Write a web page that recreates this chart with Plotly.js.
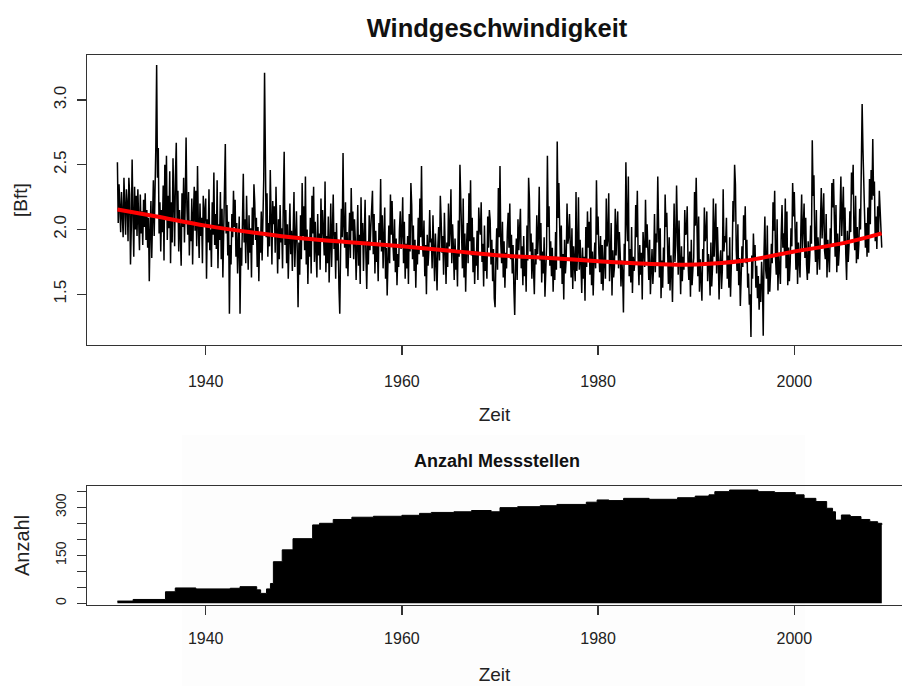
<!DOCTYPE html>
<html><head><meta charset="utf-8">
<script src="https://cdn.plot.ly/plotly-3.0.1.min.js"></script>
<style>
html,body{margin:0;padding:0;background:#fff;overflow:hidden;width:902px;height:686px}
#bg{position:absolute;left:182px;top:435px;width:623px;height:251px;background:#fdfdfd}
#chart{position:absolute;left:0;top:0;width:902px;height:686px}
</style></head>
<body><div id="bg"></div><div id="chart"></div>
<script>
// monthly mean wind speed [Bft], Jan 1931 .. Dec 2008 (one row per year)
const startYear = 1931;
const windBft = [
2.52,2.05,2.35,2.18,1.98,2.29,2.10,1.94,2.40,2.13,1.96,2.31,
2.20,1.91,2.40,2.27,1.73,2.02,2.54,2.12,1.79,2.33,2.00,2.26,
1.95,2.31,2.06,1.84,2.27,1.97,2.14,1.88,2.23,2.02,2.28,1.92,
2.15,1.86,2.09,1.60,1.99,2.22,1.78,2.06,2.38,1.95,2.20,2.64,
3.27,2.40,2.63,1.97,2.21,1.83,2.15,1.98,2.34,1.76,2.50,2.08,
2.57,1.92,2.26,2.01,2.45,1.74,2.21,1.90,2.55,2.11,1.87,2.42,
2.67,2.08,2.30,1.83,2.15,1.96,1.72,2.28,2.02,2.40,1.90,2.22,
2.71,2.18,1.96,2.29,1.80,2.07,1.91,2.24,1.73,2.12,2.33,1.99,
2.30,1.87,2.49,2.03,1.78,2.20,1.95,2.09,1.74,2.26,2.02,2.14,
2.24,1.62,2.08,1.90,2.31,1.84,2.00,1.71,2.21,1.96,2.44,1.88,
2.12,1.85,2.38,1.70,2.04,1.92,2.29,1.77,2.16,1.63,2.00,2.27,
2.66,1.97,2.19,1.80,2.06,1.35,1.88,1.73,2.12,1.94,2.30,2.02,
2.23,1.79,2.05,1.66,1.93,2.10,1.35,1.86,1.72,2.16,2.43,1.90,
2.08,1.74,2.26,1.95,1.69,2.11,1.82,2.01,1.63,2.17,1.88,2.35,
2.21,1.92,2.09,1.71,2.02,1.60,1.96,1.82,2.14,1.76,2.06,2.39,
3.21,2.15,1.94,2.28,1.79,2.05,1.87,2.46,1.99,1.73,2.22,2.04,
2.18,1.82,2.33,1.95,1.66,2.08,1.77,2.19,1.90,2.01,1.70,2.24,
2.60,1.88,2.15,1.74,2.04,1.62,1.93,2.20,1.81,1.99,1.68,2.12,
2.29,1.71,1.98,2.14,1.83,1.40,1.90,1.65,2.11,1.77,2.36,1.95,
2.18,1.84,2.41,1.73,2.00,1.58,1.92,1.79,2.09,1.66,2.26,1.97,
2.33,1.75,2.06,1.88,1.63,2.12,1.80,1.97,1.69,2.24,1.93,2.15,
2.02,1.80,2.37,1.67,1.95,1.74,2.10,1.59,1.89,2.20,1.71,2.08,
2.27,1.85,1.98,1.62,2.05,1.76,1.92,1.55,1.35,1.83,2.16,1.94,
2.59,2.02,1.86,2.21,1.70,1.98,1.64,1.90,2.13,1.78,2.32,1.99,
2.14,1.77,2.08,1.93,1.61,1.85,2.19,1.72,1.96,1.58,2.25,1.88,
2.05,1.68,1.97,2.23,1.79,1.54,1.91,1.73,2.11,1.84,2.02,2.18,
2.30,1.81,2.12,1.66,1.99,1.75,1.88,1.60,2.05,1.92,2.39,1.83,
2.11,1.70,1.94,2.17,1.62,1.86,1.49,1.78,2.03,1.74,2.27,1.96,
2.22,1.89,1.76,2.08,1.67,1.93,1.57,1.81,1.71,2.00,2.14,1.85,
1.98,2.25,1.74,2.06,1.62,1.89,1.70,1.95,1.58,2.12,1.83,2.36,
2.19,1.77,2.03,1.68,1.92,1.55,1.86,1.73,2.09,1.81,2.24,1.94,
2.49,1.91,1.79,2.07,1.64,1.88,1.50,1.96,1.72,1.84,2.15,1.90,
1.93,1.70,2.11,1.85,1.60,1.97,1.74,1.53,1.87,2.02,1.76,2.26,
2.08,1.82,1.95,1.65,2.13,1.78,1.58,1.90,1.71,2.20,1.87,2.00,
2.31,1.74,2.04,1.86,1.61,1.93,1.69,1.84,1.56,2.07,1.79,2.50,
2.14,1.88,1.70,2.24,1.63,1.97,1.52,1.85,2.05,1.74,2.28,1.91,
2.38,1.80,2.09,1.67,1.94,1.58,1.83,1.72,1.99,1.61,2.17,2.02,
1.96,2.21,1.75,1.89,1.56,2.03,1.68,1.80,1.62,2.10,1.86,2.15,
2.07,1.73,1.92,1.60,1.85,1.47,1.40,1.78,2.01,1.69,2.32,1.94,
2.49,1.89,1.74,2.06,1.63,1.91,1.55,1.82,1.70,1.98,2.13,1.86,
2.20,1.77,1.96,1.66,1.88,1.54,1.34,1.72,1.93,1.61,2.08,1.84,
1.99,2.16,1.70,1.87,1.57,1.95,1.64,1.80,1.52,2.03,1.76,2.40,
2.24,1.83,1.97,1.62,1.90,1.69,1.50,1.85,1.73,2.11,1.81,1.95,
2.33,1.76,2.05,1.59,1.83,1.66,1.94,1.48,1.75,1.87,2.57,2.02,
2.18,1.72,1.91,1.64,1.86,1.52,1.79,1.61,1.98,1.69,2.68,2.09,
2.36,1.85,1.70,2.03,1.58,1.81,1.46,1.92,1.66,1.77,2.20,1.89,
1.94,2.12,1.78,1.63,2.01,1.54,1.87,1.72,1.60,2.29,1.68,1.83,
2.25,1.69,1.92,1.74,1.51,1.86,1.62,1.79,1.45,2.02,1.71,2.14,
1.86,2.06,1.65,2.17,1.57,1.83,1.49,1.76,1.90,1.70,2.38,1.96,
2.10,1.81,1.67,1.95,1.58,1.88,1.53,1.74,1.92,1.62,2.24,1.87,
1.93,2.28,1.60,1.76,2.05,1.49,1.84,1.63,1.71,2.16,1.80,2.00,
2.14,1.70,1.98,1.82,1.56,1.76,1.66,1.36,1.89,1.73,2.52,2.08,
1.91,2.41,1.64,1.85,1.59,2.02,1.51,1.79,1.68,1.75,2.19,1.94,
2.30,1.78,1.57,1.88,1.65,1.82,1.46,1.98,1.77,1.71,2.23,1.86,
2.04,1.84,1.61,1.92,1.50,1.69,1.85,1.58,1.73,2.12,1.67,1.97,
1.90,2.41,1.80,1.63,2.01,1.47,1.76,1.55,1.86,1.72,2.27,2.02,
2.13,1.72,1.58,1.94,1.53,1.80,1.68,1.44,1.83,2.20,1.75,1.88,
2.34,1.82,1.65,2.07,1.74,1.50,1.87,1.60,1.79,1.69,2.15,1.96,
1.97,2.18,1.75,1.61,1.83,1.48,1.92,1.57,1.70,1.78,2.29,2.03,
2.40,1.87,1.64,2.10,1.52,1.77,1.66,1.45,1.85,1.72,2.17,1.91,
1.96,2.14,1.60,1.81,1.73,1.49,1.90,1.56,1.71,2.24,1.79,1.99,
2.20,1.66,2.02,1.78,1.46,1.75,1.84,1.54,1.69,2.31,1.83,1.95,
1.90,2.09,1.62,1.80,1.55,1.94,1.48,1.73,1.76,2.22,2.06,2.50,
2.35,1.84,1.68,2.04,1.57,1.78,1.41,1.63,1.87,1.71,2.11,1.92,
2.18,1.74,1.92,1.55,1.66,1.42,1.50,1.17,1.80,1.62,1.97,1.76,
1.88,1.55,1.72,1.47,1.64,1.38,1.58,1.44,1.75,1.61,1.18,1.83,
2.10,1.69,1.62,2.03,1.50,1.78,1.52,1.67,1.89,1.74,2.21,1.99,
2.30,1.79,1.65,2.08,1.53,1.82,1.72,1.58,1.96,2.19,1.86,1.97,
1.82,2.24,1.70,2.14,1.57,1.86,1.60,1.74,2.01,1.87,2.36,2.10,
2.29,1.83,1.69,2.06,1.58,1.90,1.78,1.63,1.99,2.27,1.85,2.05,
2.20,1.78,2.09,1.73,1.61,1.91,1.66,1.80,2.03,1.89,2.69,2.26,
2.42,1.92,1.75,2.15,1.65,1.94,1.83,1.69,2.06,2.32,1.93,2.12,
2.28,1.84,1.77,2.12,1.63,1.92,1.81,1.67,2.01,1.88,2.36,2.17,
2.39,1.90,1.79,2.19,1.67,1.97,1.72,1.84,2.09,2.41,1.95,2.22,
2.33,1.88,2.17,1.81,1.61,1.99,1.75,1.88,2.14,1.98,2.44,2.27,
2.50,1.97,1.84,2.26,1.74,2.02,1.77,1.89,2.16,2.00,2.49,2.97,
2.62,2.34,2.21,1.86,2.05,1.79,2.17,1.82,2.39,2.04,2.46,2.23,
2.70,2.26,2.37,1.91,2.10,1.85,2.18,1.95,2.30,2.12,2.06,1.86
];
// smoothed trend (red curve)
const trendYears = [1931,1935,1940,1945,1950,1955,1960,1965,1970,1975,1980,1985,1990,1995,2000,2005,2008.9];
const trendBft   = [2.155,2.10,2.03,1.975,1.93,1.90,1.87,1.835,1.80,1.78,1.755,1.735,1.73,1.76,1.83,1.895,1.97];
// number of measuring stations (step changes)
const stationYears  = [1931,1932.6,1935.9,1936.9,1939.0,1942.5,1943.5,1945.2,1945.6,1946.2,1946.6,1946.9,1947.8,1948.9,1950.9,1951.6,1953.0,1954.9,1957.1,1960.0,1961.8,1963.0,1965.3,1967.1,1969.1,1970.0,1971.8,1974.1,1975.8,1978.8,1979.9,1981.1,1982.6,1985.2,1988.1,1989.9,1991.3,1991.9,1993.4,1996.3,1998.0,2000.1,2001.0,2002.2,2003.3,2003.9,2004.2,2004.8,2005.7,2006.8,2007.7,2008.5,2008.92];
const stationCounts = [7,12,36,48,45,47,52,42,31,45,62,130,167,202,245,250,262,269,272,275,281,284,286,290,286,299,302,305,309,316,323,321,328,325,330,335,339,349,354,349,346,339,328,318,297,286,260,276,271,262,255,250,245];

const xTickVals = [1940,1960,1980,2000];
const xTickText = ['1940','1960','1980','2000'];
const bftTickVals = [1.5,2.0,2.5,3.0];
const bftTickText = ['1.5','2.0','2.5','3.0'];
const countTickVals = [0,50,100,150,200,250,300,350];
const countTickText = ['0','','','150','','','300',''];

const monthX = windBft.map((v,i) => startYear + i/12);
const FONT = 'Liberation Sans, Arial, Helvetica, sans-serif';
const W = 902, H = 686;
const py = p => 1 - p/H;

const traces = [
  {x: monthX, y: windBft, type:'scatter', mode:'lines', line:{color:'#000', width:1.5}, xaxis:'x', yaxis:'y', hoverinfo:'skip'},
  {x: trendYears, y: trendBft, type:'scatter', mode:'lines', line:{color:'#ff0000', width:4, shape:'spline', smoothing:1}, xaxis:'x', yaxis:'y', hoverinfo:'skip'},
  {x: stationYears, y: stationCounts, type:'scatter', mode:'lines', line:{color:'#000', width:1, shape:'hv'}, fill:'tozeroy', fillcolor:'#000', xaxis:'x2', yaxis:'y2', hoverinfo:'skip'}
];

const xr = [1927.9, 2010.98];
const axCommon = {showgrid:false, zeroline:false, showline:true, linecolor:'#333', linewidth:1.4,
  ticks:'outside', ticklen:9, tickwidth:1.2, tickcolor:'#333', fixedrange:true};

const layout = {
  width: W, height: H,
  margin:{l:87, r:0, t:0, b:0, pad:0},
  paper_bgcolor:'rgba(0,0,0,0)', plot_bgcolor:'rgba(0,0,0,0)',
  showlegend:false,
  font:{family:FONT, color:'#111'},
  title:{text:'<b>Windgeschwindigkeit</b>', font:{size:25.5, family:FONT, color:'#111'},
         xref:'container', x:497/W, xanchor:'center', yref:'container', y:py(28), yanchor:'middle'},
  xaxis: Object.assign({}, axCommon, {domain:[0,1], range:xr, anchor:'y', mirror:true,
         tickvals:xTickVals, ticktext:xTickText, tickfont:{size:16, family:FONT, color:'#222'}, ticklabelstandoff:12,
         title:{text:'Zeit', font:{size:19, family:FONT, color:'#222'}, standoff:19}}),
  yaxis: Object.assign({}, axCommon, {domain:[py(345), py(55)], range:[1.108, 3.348], anchor:'x',
         tickvals:bftTickVals, ticktext:bftTickText, tickangle:-90, tickfont:{size:17, family:FONT, color:'#222'}, ticklabelstandoff:4,
         title:{text:'[Bft]', font:{size:19, family:FONT, color:'#222'}, standoff:18}}),
  xaxis2: Object.assign({}, axCommon, {domain:[0,1], range:xr, anchor:'y2', mirror:true,
         tickvals:xTickVals, ticktext:xTickText, tickfont:{size:16, family:FONT, color:'#222'}, ticklabelstandoff:9,
         title:{text:'Zeit', font:{size:19, family:FONT, color:'#222'}, standoff:22}}),
  yaxis2: Object.assign({}, axCommon, {domain:[py(605), py(486)], range:[-5.3, 366.6], anchor:'x2',
         tickvals:countTickVals, ticktext:countTickText, tickangle:-90, tickfont:{size:14, family:FONT, color:'#222'}, ticklabelstandoff:5,
         title:{text:'Anzahl', font:{size:20, family:FONT, color:'#222'}, standoff:18}}),
  annotations:[
    {text:'<b>Anzahl Messstellen</b>', xref:'paper', yref:'paper', x:(497-87)/(W-87), y:py(461),
     xanchor:'center', yanchor:'middle', showarrow:false, font:{size:18, family:FONT, color:'#111'}}
  ]
};

Plotly.newPlot('chart', traces, layout, {displayModeBar:false, staticPlot:true});
</script>
</body></html>
